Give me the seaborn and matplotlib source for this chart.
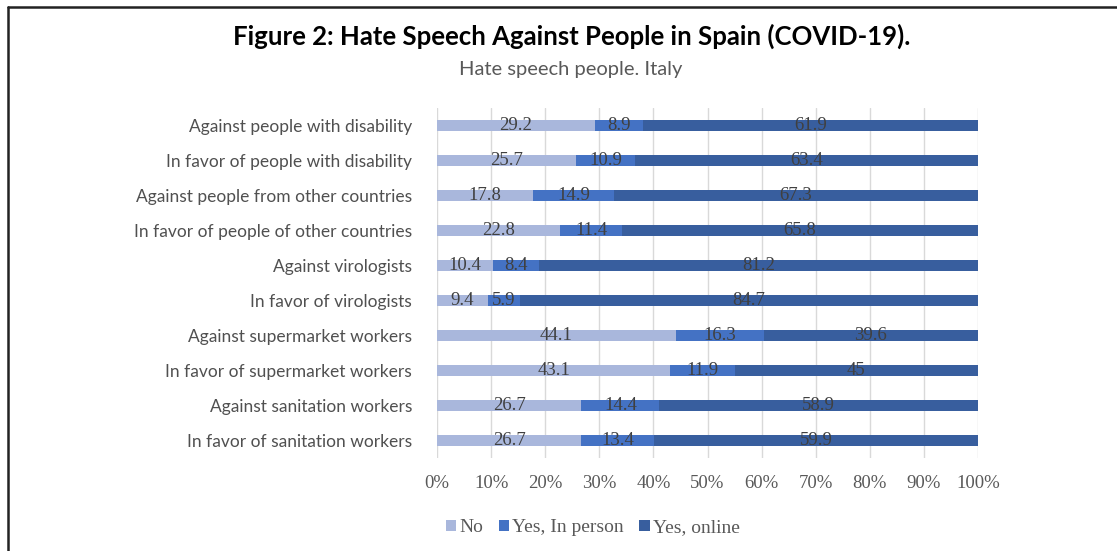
import matplotlib
matplotlib.use("Agg")
import matplotlib.pyplot as plt
import seaborn as sns
import numpy as np
import pandas as pd
from matplotlib.lines import Line2D
from matplotlib.patches import Patch

categories = [
    "Against people with disability",
    "In favor of people with disability",
    "Against people from other countries",
    "In favor of people of other countries",
    "Against virologists",
    "In favor of virologists",
    "Against supermarket workers",
    "In favor of supermarket workers",
    "Against sanitation workers",
    "In favor of sanitation workers",
]
no_vals = [29.2, 25.7, 17.8, 22.8, 10.4, 9.4, 44.1, 43.1, 26.7, 26.7]
in_person_vals = [8.9, 10.9, 14.9, 11.4, 8.4, 5.9, 16.3, 11.9, 14.4, 13.4]
online_vals = [61.9, 63.4, 67.3, 65.8, 81.2, 84.7, 39.6, 45, 58.9, 59.9]
online_labels = ["61.9", "63.4", "67.3", "65.8", "81.2", "84.7", "39.6", "45", "58.9", "59.9"]
series_names = ["No", "Yes, In person", "Yes, online"]
xtick_vals = [0, 10, 20, 30, 40, 50, 60, 70, 80, 90, 100]

colors = ["#A9B7DC", "#4472C4", "#385E9E"]
label_color = "#404040"

sns.set_theme(style="white")
plt.rcParams["font.family"] = ["Lato", "DejaVu Sans"]

df = pd.DataFrame({
    "cat": categories,
    "no": no_vals,
    "inp": in_person_vals,
    "onl": online_vals,
})
df["c1"] = df["no"]
df["c2"] = df["no"] + df["inp"]
df["c3"] = df["no"] + df["inp"] + df["onl"]

fig = plt.figure(figsize=(11.17, 5.51), dpi=100)
ax = fig.add_axes([437 / 1117, 1 - 458 / 551, (978 - 437) / 1117, 350 / 551])

bw = 0.31
sns.barplot(data=df, y="cat", x="c3", color=colors[2], saturation=1, width=bw, ax=ax, zorder=3, linewidth=0)
sns.barplot(data=df, y="cat", x="c2", color=colors[1], saturation=1, width=bw, ax=ax, zorder=3, linewidth=0)
sns.barplot(data=df, y="cat", x="c1", color=colors[0], saturation=1, width=bw, ax=ax, zorder=3, linewidth=0)

ax.set_xlim(0, 100)
ax.set_ylim(9.5, -0.5)
ax.set_xticks(xtick_vals)
ax.set_xticklabels([f"{v}%" for v in xtick_vals], family=["Liberation Serif"], fontsize=13.5, color="#595959")
ax.tick_params(axis="x", pad=12, length=0)
ax.tick_params(axis="y", pad=18, length=0)
for lab in ax.get_yticklabels():
    lab.set_fontsize(12.5)
    lab.set_color("#505050")
ax.set_xlabel("")
ax.set_ylabel("")
for s in ax.spines.values():
    s.set_visible(False)
ax.grid(axis="x", color="#D9D9D9", linewidth=1, zorder=0)
ax.grid(axis="y", visible=False)
ax.set_axisbelow(True)

for i in range(len(categories)):
    segs = [
        (df["no"][i], df["no"][i] / 2, f"{no_vals[i]}"),
        (df["inp"][i], df["c1"][i] + df["inp"][i] / 2, f"{in_person_vals[i]}"),
        (df["onl"][i], df["c2"][i] + df["onl"][i] / 2, online_labels[i]),
    ]
    for _, xc, txt in segs:
        ax.text(xc, i, txt, ha="center", va="center", fontsize=13.5,
                family=["Liberation Serif"], color=label_color, zorder=5)

fig.text(0.512, 1 - 36 / 551, "Figure 2: Hate Speech Against People in Spain (COVID-19).",
         ha="center", va="center", fontsize=18.5, fontweight="bold", color="black")
fig.text(0.511, 1 - 70 / 551, "Hate speech people. Italy",
         ha="center", va="center", fontsize=14.5, color="#595959")

handles = [Patch(facecolor=c, edgecolor="none") for c in colors]
leg = fig.legend(handles, series_names, loc="center left",
                 bbox_to_anchor=(428 / 1117, 1 - 528 / 551), ncol=3, frameon=False,
                 prop={"family": ["Liberation Serif"], "size": 14},
                 handlelength=0.55, handleheight=0.55, handletextpad=0.15, columnspacing=0.8)
for t in leg.get_texts():
    t.set_color("#595959")

fig.add_artist(Line2D([8 / 1117, 8 / 1117], [0, 1 - 7 / 551], transform=fig.transFigure, color="#222222", linewidth=1.8))
fig.add_artist(Line2D([8 / 1117, 1], [1 - 7 / 551, 1 - 7 / 551], transform=fig.transFigure, color="#222222", linewidth=1.8))

fig.savefig("out.png", dpi=100, facecolor="white")
